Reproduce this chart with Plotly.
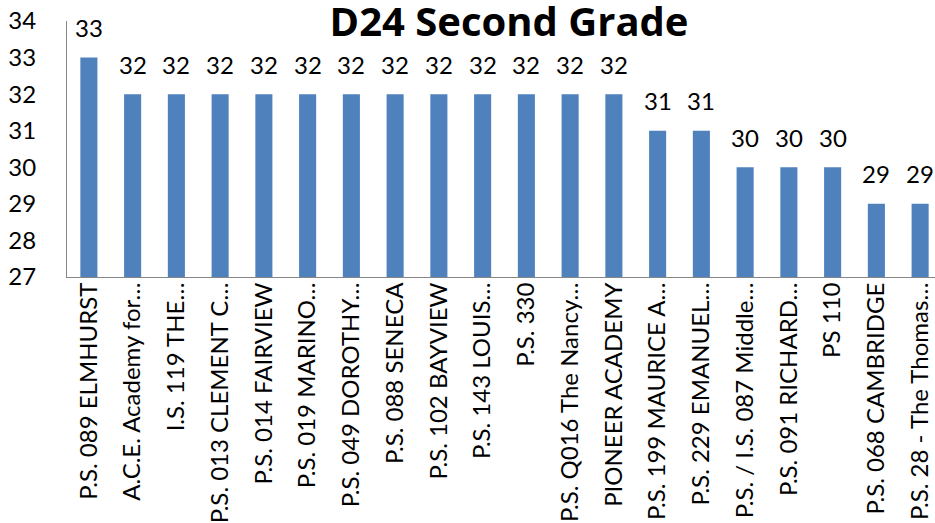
import plotly.graph_objects as go

schools = [
    "P.S. 089 ELMHURST", "A.C.E. Academy for…", "I.S. 119 THE…", "P.S. 013 CLEMENT C…",
    "P.S. 014 FAIRVIEW", "P.S. 019 MARINO…", "P.S. 049 DOROTHY…", "P.S. 088 SENECA",
    "P.S. 102 BAYVIEW", "P.S. 143 LOUIS…", "P.S. 330", "P.S. Q016 The Nancy…",
    "PIONEER ACADEMY", "P.S. 199 MAURICE A…", "P.S. 229 EMANUEL…", "P.S. / I.S. 087 Middle…",
    "P.S. 091 RICHARD…", "PS 110", "P.S. 068 CAMBRIDGE", "P.S. 28 - The Thomas…",
]
values = [33, 32, 32, 32, 32, 32, 32, 32, 32, 32, 32, 32, 32, 31, 31, 30, 30, 30, 29, 29]
y_ticks = [27, 28, 29, 30, 31, 32, 33, 34]

FONT = "Lato"
BLUE = "#4F81BD"
AXIS = "#868686"

x_idx = list(range(len(schools)))

fig = go.Figure()
fig.add_trace(go.Bar(
    x=x_idx, y=[v - 27 for v in values], base=27,
    marker=dict(color=BLUE, line=dict(width=0)),
    width=0.39, hoverinfo="skip",
))

for i, v in zip(x_idx, values):
    fig.add_annotation(x=i, y=v, text=str(v), showarrow=False,
                       yanchor="middle", yshift=30,
                       font=dict(family=FONT, size=24, color="black"))

W, H = 935, 523
fig.update_layout(
    width=W, height=H,
    margin=dict(l=67, r=0, t=21, b=243),
    paper_bgcolor="white", plot_bgcolor="white",
    showlegend=False,
    title=dict(text="<b>D24 Second Grade</b>", x=509 / W, xanchor="center",
               y=1 - 22 / H, yanchor="middle",
               font=dict(family="Open Sans", size=40, color="black")),
    bargap=0.6,
)
fig.update_xaxes(
    tickmode="array", tickvals=x_idx, ticktext=schools,
    range=[-0.5, 19.34], tickangle=-90,
    showline=True, linecolor=AXIS, linewidth=1,
    showgrid=False, zeroline=False, ticks="",
    ticklabelstandoff=-5,
    tickfont=dict(family=FONT, size=24, color="black"),
)
fig.update_yaxes(
    range=[27, 34], tickmode="array", tickvals=y_ticks,
    showline=True, linecolor=AXIS, linewidth=1,
    showgrid=False, zeroline=False, ticks="",
    ticklabelstandoff=25, ticklabeloverflow="allow",
    tickfont=dict(family=FONT, size=24, color="black"),
)

fig.write_html(
    "out.html",
    config={"displayModeBar": False},
    post_script="document.body.style.margin='0';document.body.style.overflow='hidden';",
)
